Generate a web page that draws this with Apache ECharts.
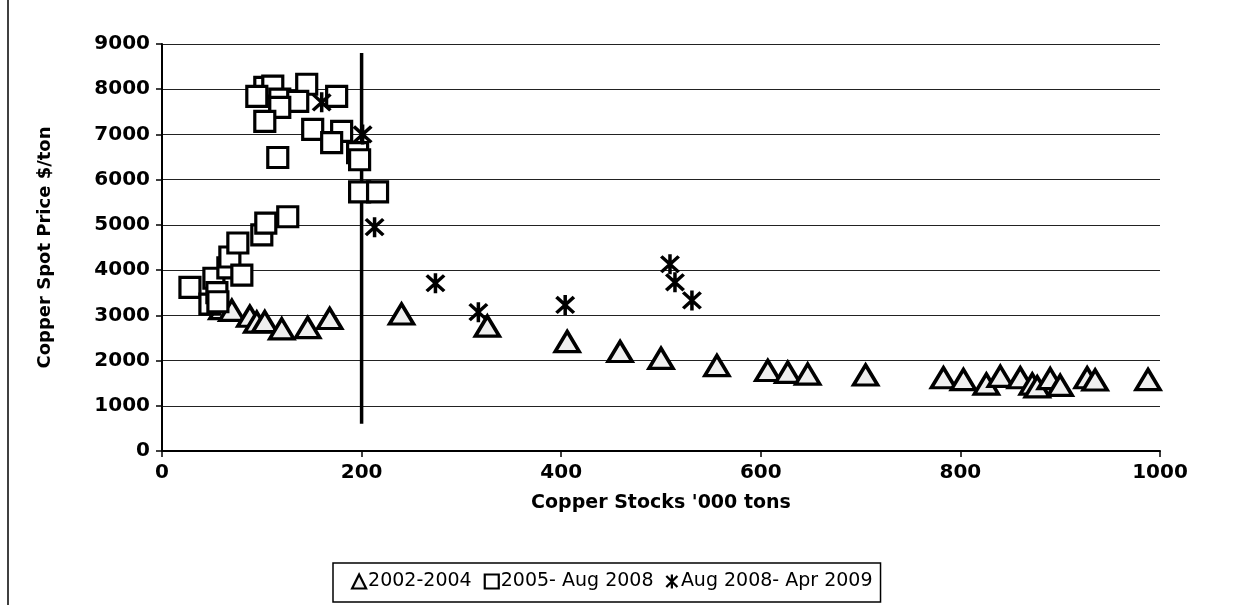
<!DOCTYPE html>
<html>
<head>
<meta charset="utf-8">
<script src="https://cdn.jsdelivr.net/npm/echarts@6/dist/echarts.min.js"></script>
<style>
  html, body { margin: 0; padding: 0; background: #fff; }
  #main { width: 1241px; height: 605px; }
</style>
</head>
<body>
<div id="main"></div>
<script>
// copper stocks ('000 tons) vs spot price ($/ton)
const tri2002 = [
  [60, 3150], [70, 3110], [88, 2980], [95, 2850], [103, 2860], [120, 2700],
  [146, 2730], [168, 2930], [240, 3030], [326, 2760], [406, 2420], [459, 2200],
  [500, 2050], [556, 1890], [607, 1780], [627, 1740], [647, 1700], [705, 1680],
  [783, 1620], [803, 1580], [826, 1480], [840, 1650], [860, 1620], [872, 1480],
  [877, 1420], [890, 1600], [900, 1450], [927, 1620], [935, 1570], [988, 1580]
];
const sq2005 = [
  [28, 3620], [48, 3250], [52, 3820], [55, 3500], [56, 3300], [66, 4050],
  [68, 4290], [76, 4600], [80, 3890], [100, 4780], [104, 5040], [126, 5180],
  [103, 8040], [111, 8070], [145, 8110], [95, 7840], [118, 7780], [136, 7730],
  [118, 7600], [175, 7840], [103, 7290], [151, 7110], [180, 7070], [170, 6820],
  [196, 6600], [198, 6440], [116, 6490], [198, 5730], [216, 5730]
];
const star2008 = [
  [160, 7710], [201, 7000], [213, 4950], [274, 3710], [317, 3070],
  [404, 3230], [509, 4130], [514, 3730], [531, 3330]
];
const dividerLine = [[200, 600], [200, 8800]];
const seriesNames = ["2002-2004", "2005- Aug 2008", "Aug 2008- Apr 2009"];

// asterisk marker: X plus a vertical bar
const starPath = "path://M8.4,0L11.6,0L11.6,20L8.4,20Z" +
  "M0.9,3.2L3.2,0.9L19.1,16.8L16.8,19.1Z" +
  "M16.8,0.9L19.1,3.2L3.2,19.1L0.9,16.8Z";

const chart = echarts.init(document.getElementById("main"), null, { renderer: "canvas" });

const boldFont = { fontFamily: "DejaVu Sans", fontWeight: "bold", color: "#000" };
const plainNum = v => String(v);

const option = {
  backgroundColor: "#fff",
  animation: false,
  grid: { left: 162, right: 81, top: 44, bottom: 154 },
  graphic: [
    { type: "line", shape: { x1: 8, y1: 0, x2: 8, y2: 605 },
      style: { stroke: "#000", lineWidth: 1.5 } }
  ],
  legend: {
    left: 333, top: 563,
    data: [
      { name: seriesNames[0], itemStyle: { borderWidth: 2.2 } },
      { name: seriesNames[1], itemStyle: { borderWidth: 2.2 } },
      { name: seriesNames[2] }
    ],
    itemWidth: 14, itemHeight: 14, itemGap: 12,
    padding: [9, 8, 11, 18],
    borderColor: "#000", borderWidth: 1.5,
    textStyle: { fontFamily: "DejaVu Sans", fontSize: 19, color: "#000", padding: [0, 0, 0, -3] }
  },
  xAxis: {
    type: "value", min: 0, max: 1000, interval: 200,
    name: "Copper Stocks '000 tons", nameLocation: "middle", nameGap: 43,
    nameTextStyle: Object.assign({ fontSize: 19 }, boldFont),
    axisLine: { show: true, lineStyle: { color: "#000", width: 2 } },
    axisTick: { show: true, length: 6, lineStyle: { color: "#000", width: 1.5 } },
    axisLabel: Object.assign({ fontSize: 20, margin: 12, formatter: plainNum }, boldFont),
    splitLine: { show: false }
  },
  yAxis: {
    type: "value", min: 0, max: 9000, interval: 1000,
    name: "Copper Spot Price $/ton", nameLocation: "middle", nameGap: 108,
    nameTextStyle: Object.assign({ fontSize: 18 }, boldFont),
    axisLine: { show: true, lineStyle: { color: "#000", width: 2 } },
    axisTick: { show: true, length: 6, lineStyle: { color: "#000", width: 1.5 } },
    axisLabel: Object.assign({ fontSize: 20, margin: 12, formatter: plainNum }, boldFont),
    splitLine: { show: true, lineStyle: { color: "#222", width: 1 } }
  },
  series: [
    {
      name: seriesNames[0], type: "scatter", data: tri2002,
      symbol: "triangle", symbolSize: [24, 20],
      itemStyle: { color: "#efefef", borderColor: "#000", borderWidth: 3.5, opacity: 1 },
      z: 3
    },
    {
      name: seriesNames[1], type: "scatter", data: sq2005,
      symbol: "rect", symbolSize: 20,
      itemStyle: { color: "#fff", borderColor: "#000", borderWidth: 3.2, opacity: 1 },
      z: 4
    },
    {
      name: seriesNames[2], type: "scatter", data: star2008,
      symbol: starPath, symbolSize: 20,
      itemStyle: { color: "#000", opacity: 1 },
      z: 5
    },
    {
      name: "divider", type: "line", data: dividerLine,
      symbol: "none", silent: true,
      lineStyle: { color: "#000", width: 3.5 },
      z: 2
    }
  ]
};

chart.setOption(option);
</script>
</body>
</html>
